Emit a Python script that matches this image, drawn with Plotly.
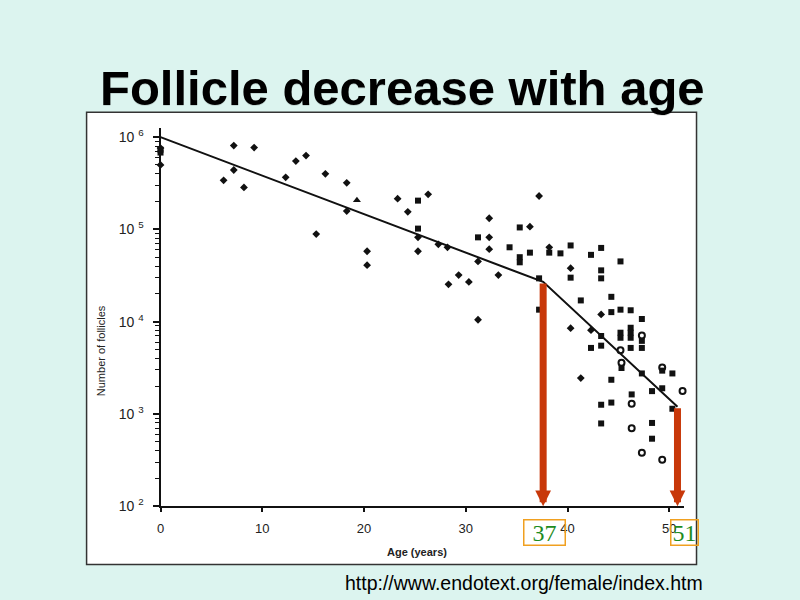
import numpy as np
import plotly.graph_objects as go

# ---------------- data ----------------
age_diamond = [0, 0, 7.2, 9.2, 6.2, 7.2, 8.2, 12.3, 13.3, 14.3, 16.2, 18.3, 18.3, 15.3,
               20.3, 20.3, 23.3, 26.3, 24.3, 25.3, 25.3, 27.3, 28.2, 29.3, 28.3, 30.3,
               31.2, 31.2, 33.2, 32.3, 32.3, 32.3, 36.3, 37.2, 38.2, 40.3, 43.3, 40.3,
               42.3, 41.3]
fol_diamond = [5.0e5, 7.6e5, 8.1e5, 7.7e5, 3.4e5, 4.4e5, 2.85e5, 3.67e5, 5.5e5, 6.3e5,
               4.0e5, 3.2e5, 1.58e5, 8.9e4, 5.8e4, 4.1e4, 2.15e5, 2.4e5, 1.55e5, 8.2e4,
               5.8e4, 6.9e4, 6.4e4, 3.2e4, 2.54e4, 2.7e4, 1.05e4, 4.5e4, 3.2e4, 8.2e4,
               1.32e5, 6.1e4, 1.07e5, 2.3e5, 6.4e4, 3.8e4, 1.2e4, 8.5e3, 8.1e3, 2.45e3]

age_square = [0, 0, 25.3, 25.3, 31.2, 34.3, 35.3, 35.3, 35.3, 36.3, 37.2, 37.2, 38.2,
              39.3, 40.3, 42.3, 43.3, 45.2, 40.3, 43.3, 43.3, 41.3, 44.3, 44.3, 45.2,
              46.2, 47.3, 43.3, 45.2, 45.2, 46.2, 46.2, 46.2, 47.3, 42.3, 43.3, 46.2,
              47.3, 45.3, 44.3, 47.3, 49.3, 50.3, 48.3, 49.3, 46.3, 43.3, 44.3, 50.3,
              43.3, 48.3, 48.3]
fol_square = [6.8e5, 7.3e5, 2.05e5, 1.02e5, 8.2e4, 6.4e4, 1.05e5, 4.4e4, 5.0e4, 5.6e4,
              2.95e4, 1.35e4, 5.6e4, 5.5e4, 6.7e4, 5.3e4, 6.3e4, 4.5e4, 3.0e4, 3.6e4,
              2.95e4, 1.7e4, 1.86e4, 1.27e4, 1.35e4, 1.33e4, 1.07e4, 7.0e3, 7.6e3,
              6.7e3, 8.6e3, 7.6e3, 6.7e3, 6.2e3, 5.2e3, 5.5e3, 5.2e3, 5.2e3, 3.15e3,
              2.35e3, 2.75e3, 2.95e3, 2.75e3, 1.77e3, 1.9e3, 1.63e3, 1.26e3, 1.33e3,
              1.14e3, 7.9e2, 8.0e2, 5.4e2]

age_circle = [47.3, 45.2, 45.3, 49.3, 51.3, 46.3, 46.3, 47.3, 49.3]
fol_circle = [7.1e3, 4.9e3, 3.6e3, 3.2e3, 1.77e3, 1.29e3, 7.0e2, 3.8e2, 3.2e2]

age_triangle = [19.3]
fol_triangle = [2.07e5]

age_cross = [0]
fol_cross = [1.26e6]

# fitted broken line
fit_age = [0, 37.6, 50.8]
fit_fol = [1.0e6, 2.7e4, 1.2e3]

# highlighted ages (arrows) and their labels
arrow_age = [37.6, 50.8]
arrow_top = [2.7e4, 1.2e3]
label_age = [37.7, 51.5]
label_text = ["37", "51"]
label_w = [40, 26]

x_ticks = [0, 10, 20, 30, 40, 50]
y_exp = [2, 3, 4, 5, 6]
y_ticktext = ["10 <sup>%d</sup>" % e for e in y_exp]

# ---------------- figure ----------------
BG = "#dcf4ef"
INK = "#111111"
X0_PX, X1_PX, XMAX = 157.3, 683.0, 51.4
fig = go.Figure()

fig.add_trace(go.Scatter(x=fit_age, y=fit_fol, mode="lines",
                         line=dict(color=INK, width=2), hoverinfo="skip"))
fig.add_trace(go.Scatter(x=age_diamond, y=fol_diamond, mode="markers",
                         marker=dict(symbol="diamond", size=6, color=INK)))
fig.add_trace(go.Scatter(x=age_square, y=fol_square, mode="markers",
                         marker=dict(symbol="square", size=6, color=INK)))
fig.add_trace(go.Scatter(x=age_circle, y=fol_circle, mode="markers",
                         marker=dict(symbol="circle-open", size=6, color=INK,
                                     line=dict(width=2, color=INK))))
fig.add_trace(go.Scatter(x=age_triangle, y=fol_triangle, mode="markers",
                         marker=dict(symbol="triangle-up", size=7, color=INK)))
fig.add_trace(go.Scatter(x=age_cross, y=fol_cross, mode="markers",
                         marker=dict(symbol="x-thin", size=6, color=INK,
                                     line=dict(width=1.5, color=INK))))
for tr in fig.data:
    tr.cliponaxis = False

minor_vals = [k * 10.0 ** n for n in range(2, 6) for k in range(2, 10)]

fig.update_layout(
    width=800, height=600,
    margin=dict(l=0, r=0, t=0, b=0),
    paper_bgcolor=BG, plot_bgcolor="white",
    showlegend=False,
    font=dict(family="Liberation Sans, Arial, sans-serif", color="#222"),
    xaxis=dict(domain=[X0_PX / 800, X1_PX / 800], range=[0, XMAX],
               showgrid=False, zeroline=False, showline=True, linecolor=INK,
               linewidth=2, ticks="outside", ticklen=4, tickwidth=1.5,
               tickcolor=INK, tickvals=x_ticks,
               tickfont=dict(size=13, color="#222", family="Liberation Sans"),
               ticklabelstandoff=5),
    yaxis=dict(domain=[87 / 600, 471.2 / 600], type="log", range=[2, 6.1],
               showgrid=False, zeroline=False, showline=True, linecolor=INK,
               linewidth=2, ticks="outside", ticklen=6, tickwidth=1.5,
               tickcolor=INK, tickvals=[10.0 ** e for e in y_exp],
               ticktext=y_ticktext,
               tickfont=dict(size=14, color="#222", family="Liberation Sans"),
               ticklabelstandoff=6,
               minor=dict(ticks="outside", ticklen=4, tickwidth=1.2,
                          tickcolor=INK, tickvals=minor_vals, showgrid=False)),
)

# white image panel behind the chart
fig.add_shape(type="rect", xref="paper", yref="paper", layer="below",
              x0=83 / 800, x1=696 / 800, y0=28 / 600, y1=487 / 600,
              fillcolor="white", line=dict(color="#333333", width=1.5))

ann = []
# title with soft shadow
ann.append(dict(xref="paper", yref="paper", x=401 / 800, y=(600 - 89.5) / 600,
                text="<b>Follicle decrease with age</b>", showarrow=False,
                font=dict(size=49, color="rgba(0,0,0,0.12)",
                          family="Liberation Sans, Arial"),
                xanchor="center", yanchor="middle"))
ann.append(dict(xref="paper", yref="paper", x=400 / 800, y=(600 - 88.5) / 600,
                text="<b>Follicle decrease with age</b>", showarrow=False,
                font=dict(size=49, color="black", family="Liberation Sans, Arial"),
                xanchor="center", yanchor="middle"))
# axis titles
ann.append(dict(xref="paper", yref="paper", x=97 / 800, y=(600 - 355) / 600,
                text="Number of follicles", showarrow=False, textangle=-90,
                font=dict(size=11, color="#222"), xanchor="center", yanchor="middle"))
ann.append(dict(xref="paper", yref="paper", x=415 / 800, y=(600 - 559) / 600,
                text="<b>Age (years)</b>", showarrow=False,
                font=dict(size=11, color="#222"), xanchor="center", yanchor="middle"))
# source url
ann.append(dict(xref="paper", yref="paper", x=523 / 800, y=(600 - 591) / 600,
                text="http://www.endotext.org/female/index.htm", showarrow=False,
                font=dict(size=19.5, color="black", family="Liberation Sans, Arial"),
                xanchor="center", yanchor="middle"))
# arrows
for a, top in zip(arrow_age, arrow_top):
    ann.append(dict(xref="x", yref="y", x=a, y=2.0, axref="x", ayref="y",
                    ax=a, ay=np.log10(top), text="", showarrow=True,
                    arrowhead=2, arrowsize=0.45, arrowwidth=7,
                    arrowcolor="#c8380a", standoff=0, startstandoff=0))
# age labels (positioned in paper units converted from the age scale so the
# label just outside the axis range is still drawn)
for a, t, w in zip(label_age, label_text, label_w):
    px = X0_PX + (X1_PX - X0_PX) * a / XMAX
    ann.append(dict(xref="paper", yref="paper", x=px / 800, y=(600 - 539.7) / 600,
                    text=t, showarrow=False, width=w, height=24,
                    bordercolor="#f0a020", borderwidth=1.5, borderpad=0,
                    font=dict(size=24, color="#1e8c1e",
                              family="Liberation Serif, Times New Roman, serif"),
                    xanchor="center", yanchor="middle"))
fig.update_layout(annotations=ann)

fig.write_html("out.html")
